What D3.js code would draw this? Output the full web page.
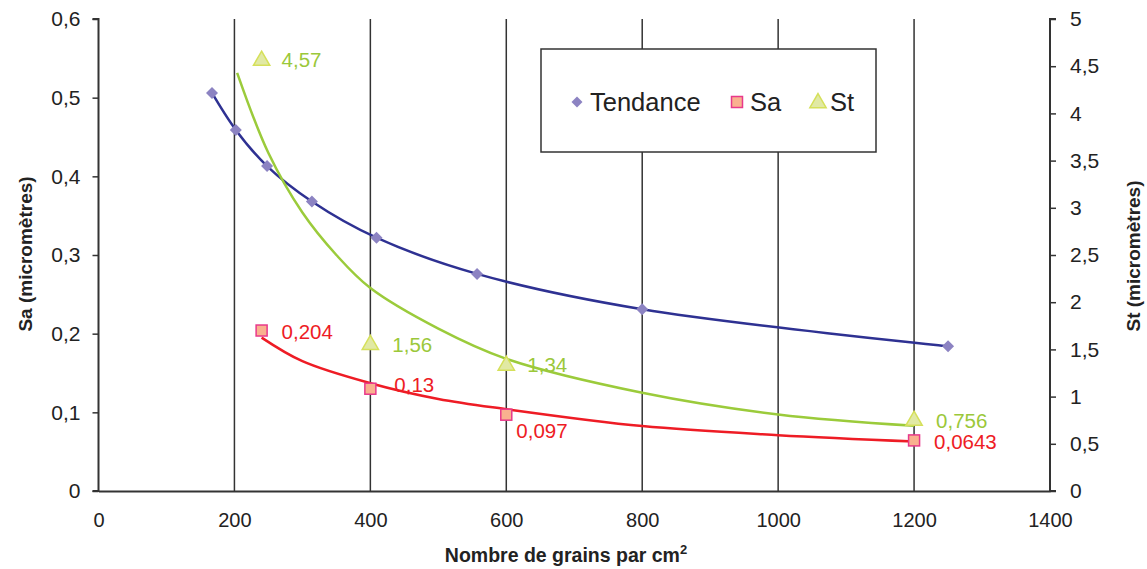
<!DOCTYPE html>
<html><head><meta charset="utf-8">
<script src="https://cdn.jsdelivr.net/npm/d3@7"></script>
<style>body{margin:0;background:#fff}svg{display:block;font-family:"Liberation Sans",Arial,sans-serif}</style>
</head><body><svg id="c" width="1147" height="569"></svg>
<script>
// ---- data ----
const xTicks = [0,200,400,600,800,1000,1200,1400];
const yLeftTicks = [0,0.1,0.2,0.3,0.4,0.5,0.6];
const yRightTicks = [0,0.5,1,1.5,2,2.5,3,3.5,4,4.5,5];
const tendX = [167,202,248,314,409,557,800,1250];
const tendY = [0.506,0.459,0.413,0.368,0.322,0.276,0.231,0.184];
const saX = [240,400,600,1200];
const saY = [0.204,0.13,0.097,0.0643];
const stX = [240,400,600,1200];
const stY = [4.57,1.56,1.34,0.756];
const saTrendX = [240,300,400,500,600,800,1000,1200];
const saTrendY = [0.195,0.165,0.137,0.117,0.104,0.0825,0.071,0.063];
const stTrendX = [204,250,300,350,400,500,600,800,1000,1200];
const stTrendY = [4.43,3.58,2.95,2.50,2.15,1.72,1.40,1.04,0.81,0.69];
const legendNames = ["Tendance","Sa","St"];
// label offsets (styling)
const saLabelOff = [[20,1],[24,-4],[10,16],[20,1]];
const stLabelOff = [[20,0],[22,1],[21,0],[22,1]];

const fmt = v => String(v).replace('.',',');
const svg = d3.select('#c');
const x = d3.scaleLinear().domain([0,1400]).range([98.5,1050]);
const yL = d3.scaleLinear().domain([0,0.6]).range([491,19]);
const yR = d3.scaleLinear().domain([0,5]).range([491,19]);

const axisCol = '#333';
// gridlines
svg.append('g').selectAll('line').data(xTicks.filter(t=>t>0 && t<1400)).join('line')
  .attr('x1',d=>x(d)).attr('x2',d=>x(d)).attr('y1',yL(0.6)).attr('y2',yL(0))
  .attr('stroke',axisCol).attr('stroke-width',1.5);

// left axis
const gL = svg.append('g').attr('transform',`translate(${x(0)},0)`)
  .call(d3.axisLeft(yL).tickValues(yLeftTicks).tickFormat(fmt).tickSize(6).tickPadding(12));
// right axis
const gR = svg.append('g').attr('transform',`translate(${x(1400)},0)`)
  .call(d3.axisRight(yR).tickValues(yRightTicks).tickFormat(fmt).tickSize(6).tickPadding(14));
// bottom axis
const gB = svg.append('g').attr('transform',`translate(0,${yL(0)})`)
  .call(d3.axisBottom(x).tickValues(xTicks).tickFormat(d3.format('d')).tickSize(0).tickPadding(22));
[gL,gR,gB].forEach(g=>{
  g.select('.domain').attr('stroke',axisCol).attr('stroke-width',2);
  g.selectAll('.tick line').attr('stroke',axisCol).attr('stroke-width',1.5);
  g.selectAll('.tick text').attr('font-size',20).attr('fill','#222')
   .attr('font-family','"Liberation Sans",Arial,sans-serif');
});
gL.selectAll('.tick text').attr('font-size',21);
gR.selectAll('.tick text').attr('font-size',21);
gL.select('.domain').attr('d',`M-6,${yL(0.6)}H0V${yL(0)}H-6`);
gR.select('.domain').attr('d',`M6,${yR(5)}H0V${yR(0)}H6`);

// axis titles
svg.append('text').attr('x',566).attr('y',562).attr('text-anchor','middle')
  .attr('font-size',19.5).attr('font-weight','bold').attr('fill','#222')
  .html('Nombre de grains par cm<tspan font-size="13" dy="-8">2</tspan>');
svg.append('text').attr('transform','translate(32,254) rotate(-90)').attr('text-anchor','middle')
  .attr('font-size',19).attr('font-weight','bold').attr('fill','#222').text('Sa (micromètres)');
svg.append('text').attr('transform','translate(1140,256) rotate(-90)').attr('text-anchor','middle')
  .attr('font-size',19).attr('font-weight','bold').attr('fill','#222').text('St (micromètres)');

// trend lines
const line = (xs,ys,ys2) => d3.line().x((d,i)=>x(xs[i])).y((d,i)=>ys2(ys[i])).curve(d3.curveCatmullRom.alpha(0.5))(xs);
svg.append('path').attr('d',line(tendX,tendY,yL)).attr('fill','none').attr('stroke','#2E3192').attr('stroke-width',2.5);
svg.append('path').attr('d',line(stTrendX,stTrendY,yR)).attr('fill','none').attr('stroke','#9BCB3B').attr('stroke-width',2.5);
svg.append('path').attr('d',line(saTrendX,saTrendY,yL)).attr('fill','none').attr('stroke','#EE1C25').attr('stroke-width',2.5);

// markers
svg.append('g').selectAll('path').data(tendX).join('path')
  .attr('d',d3.symbol().type(d3.symbolSquare).size(72))
  .attr('transform',(d,i)=>`translate(${x(d)},${yL(tendY[i])}) rotate(45)`)
  .attr('fill','#8C83C2');
const tri = d3.symbol().type(d3.symbolTriangle).size(115);
svg.append('g').selectAll('path').data(stX).join('path')
  .attr('d',tri).attr('transform',(d,i)=>`translate(${x(d)},${yR(stY[i])+1})`)
  .attr('fill','#E1E9A4').attr('stroke','#D5E05A').attr('stroke-width',1.5);
svg.append('g').selectAll('rect').data(saX).join('rect')
  .attr('x',d=>x(d)-5.5).attr('y',(d,i)=>yL(saY[i])-5.5).attr('width',11).attr('height',11)
  .attr('fill','#F9B18F').attr('stroke','#E8398B').attr('stroke-width',1.5);

// data labels
svg.append('g').selectAll('text').data(stX).join('text')
  .attr('x',(d,i)=>x(d)+stLabelOff[i][0]).attr('y',(d,i)=>yR(stY[i])+stLabelOff[i][1]).attr('dy','0.36em')
  .attr('font-size',20.5).attr('fill','#9BC83A').text((d,i)=>fmt(stY[i]));
svg.append('g').selectAll('text').data(saX).join('text')
  .attr('x',(d,i)=>x(d)+saLabelOff[i][0]).attr('y',(d,i)=>yL(saY[i])+saLabelOff[i][1]).attr('dy','0.36em')
  .attr('font-size',20.5).attr('fill','#EE1C25').text((d,i)=>fmt(saY[i]));

// legend
const lg = svg.append('g');
lg.append('rect').attr('x',541).attr('y',49).attr('width',335).attr('height',103)
  .attr('fill','#fff').attr('stroke',axisCol).attr('stroke-width',1.5);
const ly = 102;
lg.append('path').attr('d',d3.symbol().type(d3.symbolSquare).size(60))
  .attr('transform',`translate(577,${ly}) rotate(45)`).attr('fill','#8C83C2');
lg.append('rect').attr('x',731.5).attr('y',ly-5.5).attr('width',11).attr('height',11)
  .attr('fill','#F9B18F').attr('stroke','#E8398B').attr('stroke-width',1.5);
lg.append('path').attr('d',tri).attr('transform',`translate(818,${ly+1})`)
  .attr('fill','#E1E9A4').attr('stroke','#D5E05A').attr('stroke-width',1.5);
const lx = [590,750,830];
lg.selectAll('text.l').data(legendNames).join('text').attr('class','l')
  .attr('x',(d,i)=>lx[i]).attr('y',ly).attr('dy','0.36em').attr('font-size',25.5).attr('fill','#222').text(d=>d);
</script></body></html>
